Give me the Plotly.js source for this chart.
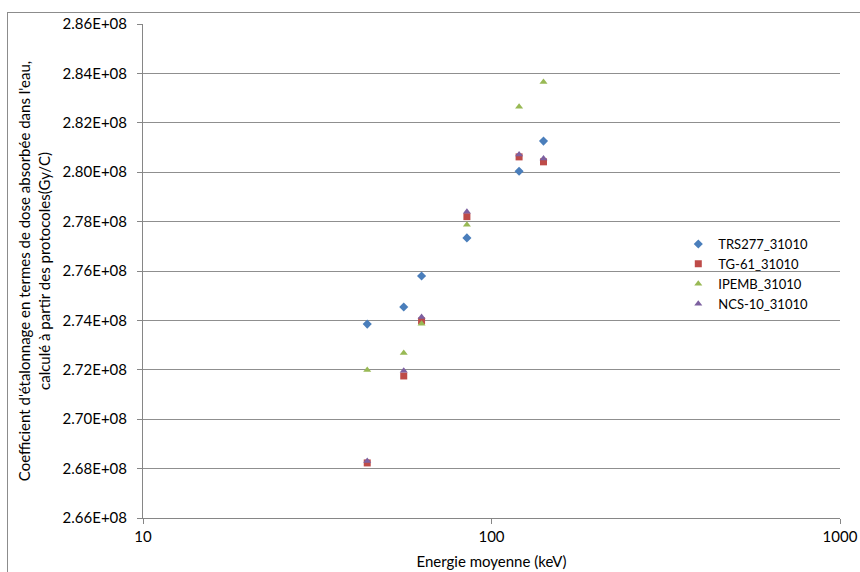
<!DOCTYPE html>
<html>
<head>
<meta charset="utf-8">
<script src="https://cdn.plot.ly/plotly-3.0.1.min.js"></script>
<style>
  html, body { margin: 0; padding: 0; background: #fff; }
  #frame { position: absolute; left: 7px; top: 12px; width: 900px; height: 600px; border-left: 1px solid #8c8c8c; border-top: 1px solid #8c8c8c; box-sizing: border-box; pointer-events: none; }
  #chart { position: absolute; left: 0; top: 0; width: 860px; height: 572px; }
</style>
</head>
<body>
<div id="chart"></div>
<div id="frame"></div>
<script>
// Energies (keV)
const energies = [44, 56, 63, 85, 120, 141];
// Calibration coefficients (Gy/C)
const trs277 = [2.7385e8, 2.7454e8, 2.7580e8, 2.7734e8, 2.8004e8, 2.8126e8];
const tg61   = [2.6823e8, 2.7175e8, 2.7398e8, 2.7820e8, 2.8062e8, 2.8042e8];
const ipemb  = [2.7199e8, 2.7268e8, 2.7386e8, 2.7787e8, 2.8265e8, 2.8365e8];
const ncs10  = [2.6831e8, 2.7196e8, 2.7414e8, 2.7840e8, 2.8072e8, 2.8055e8];
const seriesNames = ["TRS277_31010", "TG-61_31010", "IPEMB_31010", "NCS-10_31010"];
const yTickVals = [2.66e8, 2.68e8, 2.70e8, 2.72e8, 2.74e8, 2.76e8, 2.78e8, 2.80e8, 2.82e8, 2.84e8, 2.86e8];
const yTickText = ["2.66E+08", "2.68E+08", "2.70E+08", "2.72E+08", "2.74E+08", "2.76E+08", "2.78E+08", "2.80E+08", "2.82E+08", "2.84E+08", "2.86E+08"];
const xTickVals = [10, 100, 1000];
const xTickText = ["10", "100", "1000"];

const values = [trs277, tg61, ipemb, ncs10];
const symbols = ["diamond", "square", "triangle-up", "triangle-up"];
const colors = ["#4A7EBB", "#BE4B48", "#98B954", "#7D60A0"];
const sizes = [7, 7, 7, 7];

const traces = values.map((v, i) => ({
  x: energies, y: v, name: seriesNames[i], type: "scatter", mode: "markers",
  marker: { symbol: symbols[i], color: colors[i], size: sizes[i], line: { width: 0 } }
}));

const font = "Lato, 'Liberation Sans', sans-serif";
const layout = {
  width: 860, height: 572,
  margin: { l: 143, r: 20, t: 24, b: 54, pad: 0 },
  paper_bgcolor: "#ffffff", plot_bgcolor: "#ffffff",
  font: { family: font, size: 15, color: "#000" },
  showlegend: true,
  legend: { x: 0.768, y: 0.585, xanchor: "left", yanchor: "top", font: { family: font, size: 13, color: "#000" }, bgcolor: "rgba(0,0,0,0)", itemwidth: 30 },
  xaxis: {
    type: "log", range: [1, 3],
    tickvals: xTickVals, ticktext: xTickText,
    showgrid: false, zeroline: false,
    showline: true, linecolor: "#868686", linewidth: 1,
    ticks: "outside", ticklen: 5, tickcolor: "#868686",
    tickfont: { family: font, size: 15 },
    title: { text: "Energie moyenne (keV)", font: { family: font, size: 15 }, standoff: 12 }
  },
  yaxis: {
    range: [2.66e8, 2.86e8],
    tickvals: yTickVals, ticktext: yTickText,
    showgrid: true, gridcolor: "#8f8f8f", gridwidth: 1, zeroline: false,
    showline: true, linecolor: "#868686", linewidth: 1,
    ticks: "outside", ticklen: 5, tickcolor: "#868686",
    ticklabelstandoff: 7,
    tickfont: { family: font, size: 15 },
    title: { text: "Coefficient d'étalonnage en termes de dose absorbée dans l'eau,<br>calculé à partir des protocoles(Gy/C)", font: { family: font, size: 15 }, standoff: 8 }
  }
};

Plotly.newPlot("chart", traces, layout, { staticPlot: true, displayModeBar: false });
</script>
</body>
</html>
